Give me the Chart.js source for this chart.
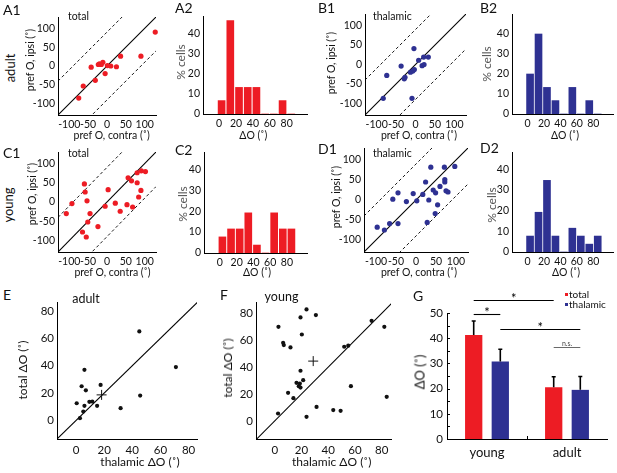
<!DOCTYPE html>
<html>
<head>
<meta charset="utf-8">
<script src="https://cdn.jsdelivr.net/npm/chart.js@4.4.1/dist/chart.umd.min.js"></script>
<style>
html, body { margin: 0; padding: 0; background: #fff; }
#fig { position: relative; width: 617px; height: 473px; overflow: hidden; font-family: Lato, sans-serif; color: #111; }
#fig canvas { position: absolute; }
.t { position: absolute; white-space: nowrap; line-height: 1; }
</style>
</head>
<body>
<div id="fig"></div>
<script>
// ---- data ----
// preferred orientation, contra vs ipsi (deg)
const adultTotalContra = [128, 36, 90, 25, 10, 1, -20, -11, -15, -23, -5, -42, -31, -63, -75];
const adultTotalIpsi   = [90, 26, 26, -2, 0, 1, 6, 10, 4, 4, -20, -3, -38, -53, -85];
const adultThalContra  = [-4, 8, 21, 33, 17, 22, -37, -74, -3, -7, -13, -27, -29, -9, -83];
const adultThalIpsi    = [41, 11, 19, 19, -3, 0, -4, -28, -13, -17, -20, -33, -37, -87, -87];
const youngTotalContra = [-108, -93, -60, -58, -53, -45, -51, -65, -55, -24, -5, 3, 22, 35, 53, 68, 56, 65, 80, 91, 102, 80, 84, 90];
const youngTotalIpsi   = [-30, -4, 47, 26, 3, -30, -52, -78, -91, -64, -11, 32, -3, -24, -7, -13, 63, 55, 76, 81, 79, 50, 13, 30];
const youngThalContra  = [-97, -79, -66, -45, -45, -58, -24, -7, 2, 17, 24, 32, 37, 43, 49, 60, 71, 72, 72, 75, 80, 54, 48, 28, 97];
const youngThalIpsi    = [-68, -75, -59, -59, 18, 2, -4, 16, -2, 14, 45, 0, 82, 25, 18, 34, 82, 51, 45, 23, 20, -12, -34, -56, 84];
const prefRange = [-130, 130];
const prefTicks = [-100, -50, 0, 50, 100];
const dashOffset = 90;

// histograms of delta O (% cells)
const binCenters     = [3, 13.3, 23.6, 33.9, 44.2, 54.5, 64.8, 75.1, 85.4];
const adultTotalHist = [6.7, 46.7, 13.3, 13.3, 13.3, 0, 0, 6.7, 0];
const adultThalHist  = [20, 40, 13.3, 6.7, 0, 13.3, 0, 6.7, 0];
const youngTotalHist = [7.7, 11.5, 11.5, 19.2, 3.8, 0, 19.2, 11.5, 11.5];
const youngThalHist  = [7.7, 19.2, 34.6, 7.7, 0, 11.5, 7.7, 3.8, 7.7];
const histXRange = [-19, 104];
const histXTicks = [0, 20, 40, 60, 80];
const histYTicks = [0, 10, 20, 30, 40];

// thalamic vs total delta O (deg)
const adultThalDelta  = [45, 71, 6, 4, 7, 17.5, 0.5, 6, 9.5, 11.6, 15, 2.8, 5.2, 31.7, 45.6];
const adultTotalDelta = [65, 39, 37, 25, 22, 26, 12.6, 10.7, 13.6, 13.8, 10.7, 1.7, 6.5, 9, 18.2];
const adultMean = [18.2, 18.7];
const youngThalDelta  = [2.8, 19.3, 23.8, 30.8, 20.3, 6.3, 6.8, 11.8, 72.5, 82, 52, 55, 57, 19.3, 16.3, 18, 18.8, 19.3, 21.3, 10, 14, 2.5, 23.8, 31.3, 43.8, 49.3, 83.8];
const youngTotalDelta = [70, 77, 83, 78.8, 64.3, 58.1, 56.4, 54.7, 74.5, 70, 55.2, 56, 25.8, 37.3, 28.3, 25.8, 27.8, 24.8, 30.3, 20.9, 16.9, 5.5, 3, 10.4, 8, 7.5, 17.9];
const youngMean = [28.8, 44.5];
const deltaTicks = [0, 20, 40, 60, 80];

// summary bars
const groups    = ['young', 'adult'];
const gTotal    = [41.3, 20.5];
const gTotalErr = [5.5, 4.2];
const gThal     = [30.8, 19.5];
const gThalErr  = [4.8, 5.3];
const gTicks    = [0, 10, 20, 30, 40, 50];

const RED = '#ED1C24', BLUE = '#2E3192';

// ---- helpers ----
const fig = document.getElementById('fig');
Chart.defaults.font.family = 'Lato, sans-serif';
Chart.defaults.color = '#111';

function place(box, m) {
    const c = document.createElement('canvas');
    c.width = box[2] - box[0] + m.l + m.r;
    c.height = box[3] - box[1] + m.t + m.b;
    c.style.left = (box[0] - m.l) + 'px';
    c.style.top = (box[1] - m.t) + 'px';
    fig.appendChild(c);
    return c;
}

function linAxis(range, ticks, size, pad) {
    return {
        type: 'linear', min: range[0], max: range[1], offset: false,
        grid: { display: false, drawTicks: false },
        border: { display: true, color: '#000', width: 1 },
        ticks: { font: { size }, color: '#111', padding: pad || 3, autoSkip: false, maxRotation: 0, callback: v => String(v) },
        afterBuildTicks: s => { s.ticks = ticks.map(v => ({ value: v })); }
    };
}

function baseOptions(m, xAxis, yAxis) {
    xAxis.afterFit = s => { s.height = m.b; };
    yAxis.afterFit = s => { s.width = m.l; };
    return {
        responsive: false, animation: false, devicePixelRatio: 1,
        layout: { padding: { left: 0, top: m.t, right: m.r, bottom: 0 } },
        plugins: { legend: { display: false }, tooltip: { enabled: false } },
        scales: { x: xAxis, y: yAxis }
    };
}

const M = { l: 40, t: 10, r: 12, b: 22 };

function prefPanel(box, contra, ipsi, color) {
    const lo = prefRange[0], hi = prefRange[1];
    const line = d => [{ x: lo, y: lo + d }, { x: hi, y: hi + d }];
    const dashed = { showLine: true, borderColor: '#000', borderWidth: 0.9, borderDash: [3, 2.5], pointRadius: 0 };
    new Chart(place(box, M), {
        type: 'scatter',
        data: {
            datasets: [
                { data: contra.map((x, i) => ({ x, y: ipsi[i] })), backgroundColor: color, pointRadius: 2.6, borderWidth: 0, clip: false },
                { data: line(0), showLine: true, borderColor: '#000', borderWidth: 1.1, pointRadius: 0 },
                Object.assign({ data: line(dashOffset) }, dashed),
                Object.assign({ data: line(-dashOffset) }, dashed)
            ]
        },
        options: baseOptions(M, linAxis(prefRange, prefTicks, 10.5, 3), linAxis(prefRange, prefTicks, 10.5, 3))
    });
}

function histPanel(box, heights, color, yMax) {
    new Chart(place(box, M), {
        type: 'bar',
        data: {
            datasets: [{
                data: binCenters.map((x, i) => ({ x, y: heights[i] })),
                backgroundColor: color, borderWidth: 0, barThickness: 7
            }]
        },
        options: baseOptions(M, linAxis(histXRange, histXTicks, 10.5, 3), linAxis([0, yMax], histYTicks, 10.5, 3))
    });
}

function deltaPanel(box, thal, total, mean, xr, yr) {
    new Chart(place(box, M), {
        type: 'scatter',
        data: {
            datasets: [
                { data: thal.map((x, i) => ({ x, y: total[i] })), backgroundColor: '#111', pointRadius: 2.1, borderWidth: 0, clip: false },
                { data: [{ x: mean[0], y: mean[1] }], pointStyle: 'cross', pointRadius: 5, borderColor: '#111', borderWidth: 1 },
                { data: [{ x: xr[0], y: xr[0] }, { x: yr[1], y: yr[1] }], showLine: true, borderColor: '#000', borderWidth: 1.1, pointRadius: 0 }
            ]
        },
        options: baseOptions(M, linAxis(xr, deltaTicks, 11.5, 4), linAxis(yr, deltaTicks, 11.5, 3))
    });
}

// ---- panels ----
prefPanel([58, 17, 156, 115], adultTotalContra, adultTotalIpsi, RED);
prefPanel([365, 14, 466, 115], adultThalContra, adultThalIpsi, BLUE);
prefPanel([58, 152, 156, 252], youngTotalContra, youngTotalIpsi, RED);
prefPanel([364, 148, 468, 252], youngThalContra, youngThalIpsi, BLUE);

histPanel([203, 16, 307, 114], adultTotalHist, RED, 49);
histPanel([512, 14, 613, 114], adultThalHist, BLUE, 50);
histPanel([204, 152, 307, 253], youngTotalHist, RED, 48.3);
histPanel([512, 152, 613, 252], youngThalHist, BLUE, 48.3);

deltaPanel([57, 302, 197, 439], adultThalDelta, adultTotalDelta, adultMean, [-13.5, 86], [-13.5, 86.5]);
deltaPanel([256, 302, 391, 439], youngThalDelta, youngTotalDelta, youngMean, [-14, 87], [-13.5, 88.5]);

// significance brackets: [dataset, index] pairs, height in data units
const sigBrackets = [
    { from: [0, 0], to: [0, 1], y: 55.3, text: '*' },
    { from: [0, 0], to: [1, 0], y: 49.7, text: '*' },
    { from: [1, 0], to: [1, 1], y: 43.7, text: '*' },
    { from: [0, 1], to: [1, 1], y: 36.7, text: 'n.s.' }
];

const gExtras = {
    id: 'gExtras',
    afterDatasetsDraw(chart) {
        const { ctx, chartArea, scales: { x, y } } = chart;
        ctx.save();
        // error bars
        ctx.strokeStyle = '#000';
        ctx.lineWidth = 1.6;
        [gTotalErr, gThalErr].forEach((errs, di) => {
            chart.getDatasetMeta(di).data.forEach((bar, i) => {
                const top = y.getPixelForValue(chart.data.datasets[di].data[i] + errs[i]);
                ctx.beginPath();
                ctx.moveTo(bar.x, bar.y);
                ctx.lineTo(bar.x, top);
                ctx.moveTo(bar.x - 2, top);
                ctx.lineTo(bar.x + 2, top);
                ctx.stroke();
            });
        });
        // minor ticks inside the y axis, and the mid tick on x
        ctx.lineWidth = 1;
        for (let v = 5; v <= 50; v += 5) {
            const py = Math.round(y.getPixelForValue(v)) + 0.5;
            ctx.beginPath();
            ctx.moveTo(chartArea.left, py);
            ctx.lineTo(chartArea.left + 3, py);
            ctx.stroke();
        }
        const mid = Math.round((chartArea.left + chartArea.right) / 2) + 0.5;
        ctx.beginPath();
        ctx.moveTo(mid, chartArea.bottom);
        ctx.lineTo(mid, chartArea.bottom - 3);
        ctx.stroke();
        // brackets
        sigBrackets.forEach(b => {
            const x1 = chart.getDatasetMeta(b.from[0]).data[b.from[1]].x;
            const x2 = chart.getDatasetMeta(b.to[0]).data[b.to[1]].x;
            const py = Math.round(y.getPixelForValue(b.y)) + 0.5;
            const ns = b.text !== '*';
            ctx.strokeStyle = ns ? '#444' : '#000';
            ctx.lineWidth = ns ? 0.8 : 1.1;
            ctx.beginPath();
            ctx.moveTo(x1, py);
            ctx.lineTo(x2, py);
            ctx.stroke();
            ctx.fillStyle = ns ? '#444' : '#000';
            ctx.textAlign = 'center';
            ctx.textBaseline = 'alphabetic';
            ctx.font = ns ? '7px Lato' : '13px Lato';
            ctx.fillText(b.text, (x1 + x2) / 2, ns ? py - 2 : py + 2.5);
        });
        ctx.restore();
    }
};

const MG = { l: 36, t: 26, r: 8, b: 22 };
const gCat = {
    type: 'category', offset: true,
    grid: { display: false, drawTicks: false },
    border: { display: true, color: '#000', width: 1 },
    ticks: { font: { size: 13 }, color: '#111', padding: 6 }
};
const gOpts = baseOptions(MG, gCat, linAxis([0, 50], gTicks, 11.5, 4));
gOpts.datasets = { bar: { barPercentage: 0.65, categoryPercentage: 0.665 } };
new Chart(place([447, 313, 607, 439], MG), {
    type: 'bar',
    data: {
        labels: groups,
        datasets: [
            { label: 'total', data: gTotal, backgroundColor: RED, borderWidth: 0 },
            { label: 'thalamic', data: gThal, backgroundColor: BLUE, borderWidth: 0 }
        ]
    },
    options: gOpts,
    plugins: [gExtras]
});

// ---- text ----
const ASC = 0.887, MID = 0.387;
function label(str, x, y, size, opt) {
    opt = opt || {};
    const d = document.createElement('div');
    d.className = 't';
    d.textContent = str;
    d.style.fontSize = size + 'px';
    if (opt.color) d.style.color = opt.color;
    if (opt.rot) {
        // x is the baseline, y the centre
        d.style.left = (x - MID * size) + 'px';
        d.style.top = y + 'px';
        d.style.transform = 'translate(-50%,-50%) rotate(-90deg)';
    } else {
        d.style.left = x + 'px';
        d.style.top = (y - ASC * size) + 'px';
        if (opt.center) d.style.transform = 'translateX(-50%)';
    }
    fig.appendChild(d);
    return d;
}

// panel letters
[['A1', 3, 15], ['A2', 175, 13], ['B1', 318, 13], ['B2', 480, 13],
 ['C1', 3, 158], ['C2', 175, 155], ['D1', 318, 154], ['D2', 480, 153],
 ['E', 3, 300], ['F', 220, 300], ['G', 413, 301]].forEach(p => label(p[0], p[1], p[2], 14));

label('adult', 15, 68, 13, { rot: true });
label('young', 13, 205, 13, { rot: true });

label('total', 68, 20.5, 10.5);
label('thalamic', 373, 20.5, 10.5);
label('total', 68, 157.5, 10.5);
label('thalamic', 373, 157.5, 10.5);

const ipsi = 'pref O, ipsi (\u02DA)', contra = 'pref O, contra (\u02DA)', dO = '\u0394O (\u02DA)';
label(ipsi, 34, 60, 10.5, { rot: true });
label(contra, 111.7, 139, 10.5, { center: true });
label(ipsi, 335, 62.5, 10.5, { rot: true });
label(contra, 419, 139, 10.5, { center: true });
label(ipsi, 36, 194, 10.5, { rot: true });
label(contra, 112.5, 276, 10.5, { center: true });
label(ipsi, 340, 197, 10.5, { rot: true });
label(contra, 419, 276, 10.5, { center: true });

label('% cells', 186, 62, 12, { rot: true, color: '#555' });
label(dO, 253.3, 139, 10.5, { center: true });
label('% cells', 492, 64, 12, { rot: true, color: '#555' });
label(dO, 565, 139, 10.5, { center: true });
label('% cells', 188, 204, 12, { rot: true, color: '#555' });
label(dO, 257, 276, 10.5, { center: true });
label('% cells', 497, 205, 12, { rot: true, color: '#555' });
label(dO, 566, 276, 10.5, { center: true });

label('adult', 86, 304, 12.5, { center: true });
label('young', 281.5, 302, 12.5, { center: true });
label('total ' + dO, 28, 370, 12, { rot: true });
label('thalamic ' + dO, 140, 467, 12, { center: true });
label('total ' + dO, 233, 367.5, 12, { rot: true });
label('thalamic ' + dO, 331.7, 467, 12, { center: true });
label(dO, 425, 372, 13, { rot: true });

function legendItem(str, color, x, y) {
    const d = label('', x, y, 10);
    const sq = document.createElement('span');
    sq.style.cssText = 'display:inline-block;width:3px;height:3px;margin-right:1px;vertical-align:2px;background:' + color;
    d.append(sq, str);
}
legendItem('total', RED, 565, 298.3);
legendItem('thalamic', BLUE, 565, 308.3);
</script>
</body>
</html>
